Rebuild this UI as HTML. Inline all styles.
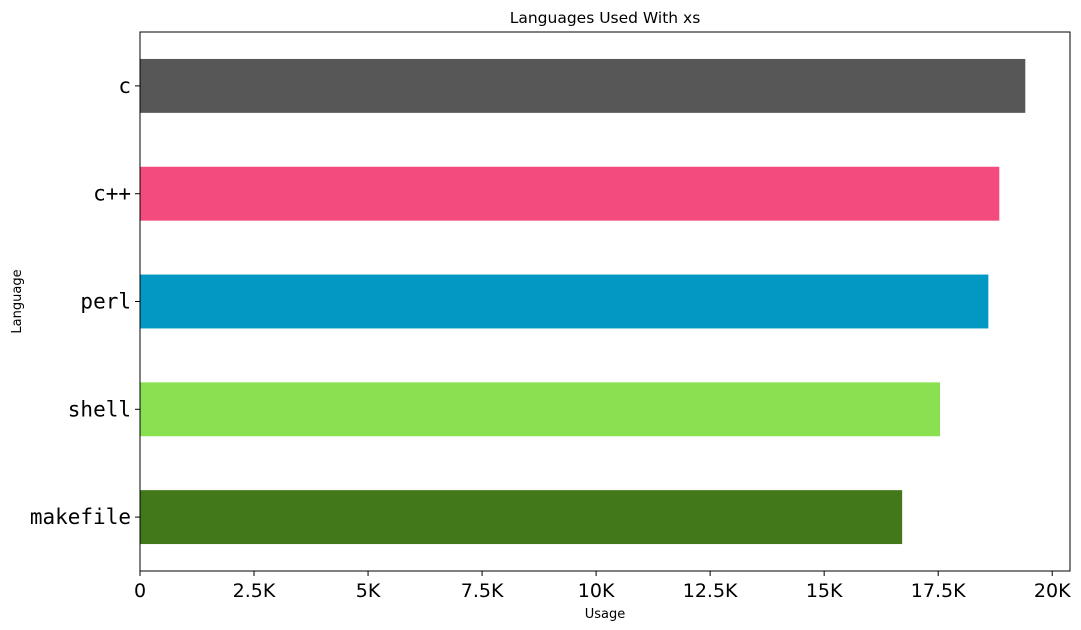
<!DOCTYPE html>
<html><head><meta charset="utf-8"><style>body{margin:0;background:#fff}svg{display:block}</style></head>
<body>
<svg id="chart" width="1081" height="630" xmlns="http://www.w3.org/2000/svg" font-family="DejaVu Sans, Liberation Sans, sans-serif">
</svg>
<script>
const categories = ["c","c++","perl","shell","makefile"];
const values = [19410,18840,18600,17540,16710];
const colors = ["#575757","#f34b7d","#0298c3","#89e051","#427819"];
const xTicks = [0,2500,5000,7500,10000,12500,15000,17500,20000];
const xTickLabels = ["0","2.5K","5K","7.5K","10K","12.5K","15K","17.5K","20K"];
const svg = document.getElementById('chart');
const NS = "http://www.w3.org/2000/svg";
const L=140,R=1070,T=32,B=571,xMax=20390;
const x = v => L + v/xMax*(R-L);
const band = (B-T)/categories.length;
const yC = i => T + band*(i+0.5);
function mk(tag, attrs, text){const e=document.createElementNS(NS,tag);for(const k in attrs)e.setAttribute(k,attrs[k]);if(text!==undefined)e.textContent=text;svg.appendChild(e);return e;}
categories.forEach((c,i)=>{
  const r=mk('rect',{x:L,y:yC(i)-band*0.25,width:x(values[i])-L,height:band*0.5,fill:colors[i]});
  
  
  const t=mk('line',{x1:L-5,x2:L,y1:yC(i),y2:yC(i),stroke:'#000'});
  
  
  const lb=mk('text',{x:L-9,y:yC(i)+7,'text-anchor':'end','font-size':'21','font-family':'DejaVu Sans Mono, Liberation Mono, monospace'},c);
  
  
});
xTicks.forEach((v,i)=>{
  const t=mk('line',{x1:x(v),x2:x(v),y1:B,y2:B+5,stroke:'#000'});
  
  
  const lb=mk('text',{x:x(v),y:B+26,'text-anchor':'middle','font-size':'19'},xTickLabels[i]);
  
  
});
const fr=mk('rect',{x:L,y:T,width:R-L,height:B-T,fill:'none',stroke:'#000','stroke-width':1});


const ti=mk('text',{x:(L+R)/2,y:23,'text-anchor':'middle','font-size':'15.5'},'Languages Used With xs');


const xt=mk('text',{x:(L+R)/2,y:618,'text-anchor':'middle','font-size':'13'},'Usage');


const yt=mk('text',{x:21,y:(T+B)/2,'text-anchor':'middle','font-size':'13',transform:'rotate(-90 21 '+((T+B)/2)+')'},'Language');


</script>
</body></html>
